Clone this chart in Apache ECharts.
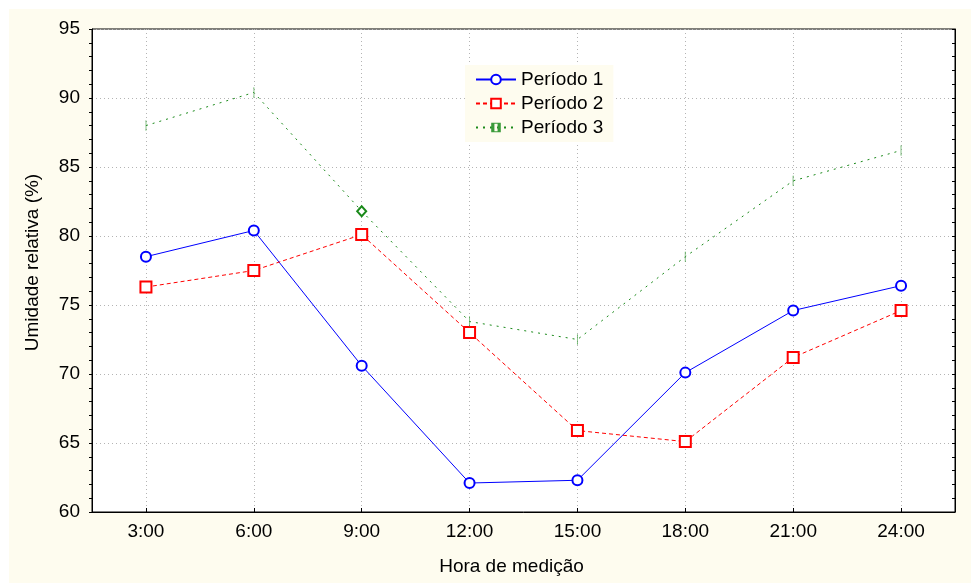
<!DOCTYPE html>
<html>
<head>
<meta charset="utf-8">
<script src="https://cdn.jsdelivr.net/npm/echarts@6/dist/echarts.min.js"></script>
<style>
html,body{margin:0;padding:0;background:#ffffff;}
#c{width:971px;height:583px;}
</style>
</head>
<body>
<div id="c"></div>
<script>
var categories = ['3:00','6:00','9:00','12:00','15:00','18:00','21:00','24:00'];
var periodo1 = [78.5, 80.4, 70.6, 62.1, 62.3, 70.1, 74.6, 76.4];
var periodo2 = [76.3, 77.5, 80.1, 73.0, 65.9, 65.1, 71.2, 74.6];
var periodo3 = [88.0, 90.4, 81.8, 73.8, 72.5, 78.5, 84.0, 86.2];
var seriesNames = ['Período 1','Período 2','Período 3'];

var font = 'Liberation Sans, Arial, sans-serif';
var chart = echarts.init(document.getElementById('c'), null, {renderer:'canvas'});

var thinBar = 'path://M0,0 L3,0 L3,10 L0,10 Z M1,1 L1,9 L2,9 L2,1 Z';
var p3data = periodo3.map(function(v, i){
  if (i === 2) return {value: v, symbol: 'emptyDiamond', symbolSize: [9, 10], symbolKeepAspect: false, itemStyle: {borderWidth: 1, color: '#1a8a1a', borderColor: '#1a8a1a'}};
  return v;
});

var option = {
  animation: false,
  backgroundColor: '#ffffff',
  graphic: [{
    type: 'rect', z: -10, silent: true,
    shape: {x: 9, y: 9, width: 962, height: 574},
    style: {fill: '#fefcef'}
  }],
  grid: {left: 92, top: 29, right: 16, bottom: 71, show: true, backgroundColor: '#ffffff', borderColor: '#000', borderWidth: 1},
  legend: {
    left: 465, top: 65, orient: 'vertical',
    backgroundColor: '#fefcef',
    padding: [5, 10, 5, 10],
    itemGap: 5, itemWidth: 40, itemHeight: 12,
    textStyle: {fontFamily: font, fontSize: 19, color: '#000'},
    data: seriesNames
  },
  xAxis: {
    type: 'category', data: categories, boundaryGap: true,
    name: 'Hora de medição', nameLocation: 'middle', nameGap: 45,
    nameTextStyle: {fontFamily: font, fontSize: 19, color: '#000', padding: [0, 24, 0, 0]},
    axisLine: {lineStyle: {color: '#000', width: 1}},
    axisTick: {show: true, alignWithLabel: true, inside: true, length: 4, lineStyle: {color: '#000'}},
    axisLabel: {fontFamily: font, fontSize: 19, color: '#000', margin: 10},
    splitLine: {show: true, alignWithLabel: true, lineStyle: {color: '#b4b4b4', type: [1, 3], width: 1}}
  },
  yAxis: [{
    type: 'value', min: 60, max: 95, interval: 5,
    name: 'Umidade relativa (%)', nameLocation: 'middle', nameGap: 50,
    nameTextStyle: {fontFamily: font, fontSize: 19, color: '#000', padding: [0, 0, 0, 16]},
    axisLine: {show: true, lineStyle: {color: '#000', width: 1}},
    axisTick: {show: true, inside: false, length: 3, lineStyle: {color: '#000'}},
    minorTick: {show: true, splitNumber: 5, length: 3, lineStyle: {color: '#000'}},
    axisLabel: {fontFamily: font, fontSize: 19, color: '#000', margin: 12},
    splitLine: {show: true, lineStyle: {color: '#b4b4b4', type: [1, 3], width: 1}}
  }, {
    type: 'value', min: 60, max: 95, interval: 5, position: 'right',
    axisLine: {show: true, lineStyle: {color: '#000', width: 1}},
    axisTick: {show: true, inside: true, length: 3, lineStyle: {color: '#000'}},
    minorTick: {show: true, splitNumber: 5, length: 3, lineStyle: {color: '#000'}},
    axisLabel: {show: false},
    splitLine: {show: false}
  }],
  series: [{
    name: seriesNames[0], type: 'line', data: periodo1,
    symbol: 'emptyCircle', symbolSize: 10,
    lineStyle: {color: '#0000ff', width: 1},
    itemStyle: {color: '#0000ff', borderColor: '#0000ff', borderWidth: 1.5}
  }, {
    name: seriesNames[1], type: 'line', data: periodo2,
    symbol: 'emptyRect', symbolSize: 11,
    lineStyle: {color: '#ff0000', width: 1, type: [4, 3]},
    itemStyle: {color: '#ff0000', borderColor: '#ff0000', borderWidth: 2}
  }, {
    name: seriesNames[2], type: 'line', data: p3data,
    symbol: thinBar, symbolSize: [3, 10], symbolKeepAspect: true,
    lineStyle: {color: '#1a8a1a', width: 1, type: [2, 5]},
    itemStyle: {color: '#3a9a3a', borderWidth: 0}
  }]
};
chart.setOption(option);
</script>
</body>
</html>
